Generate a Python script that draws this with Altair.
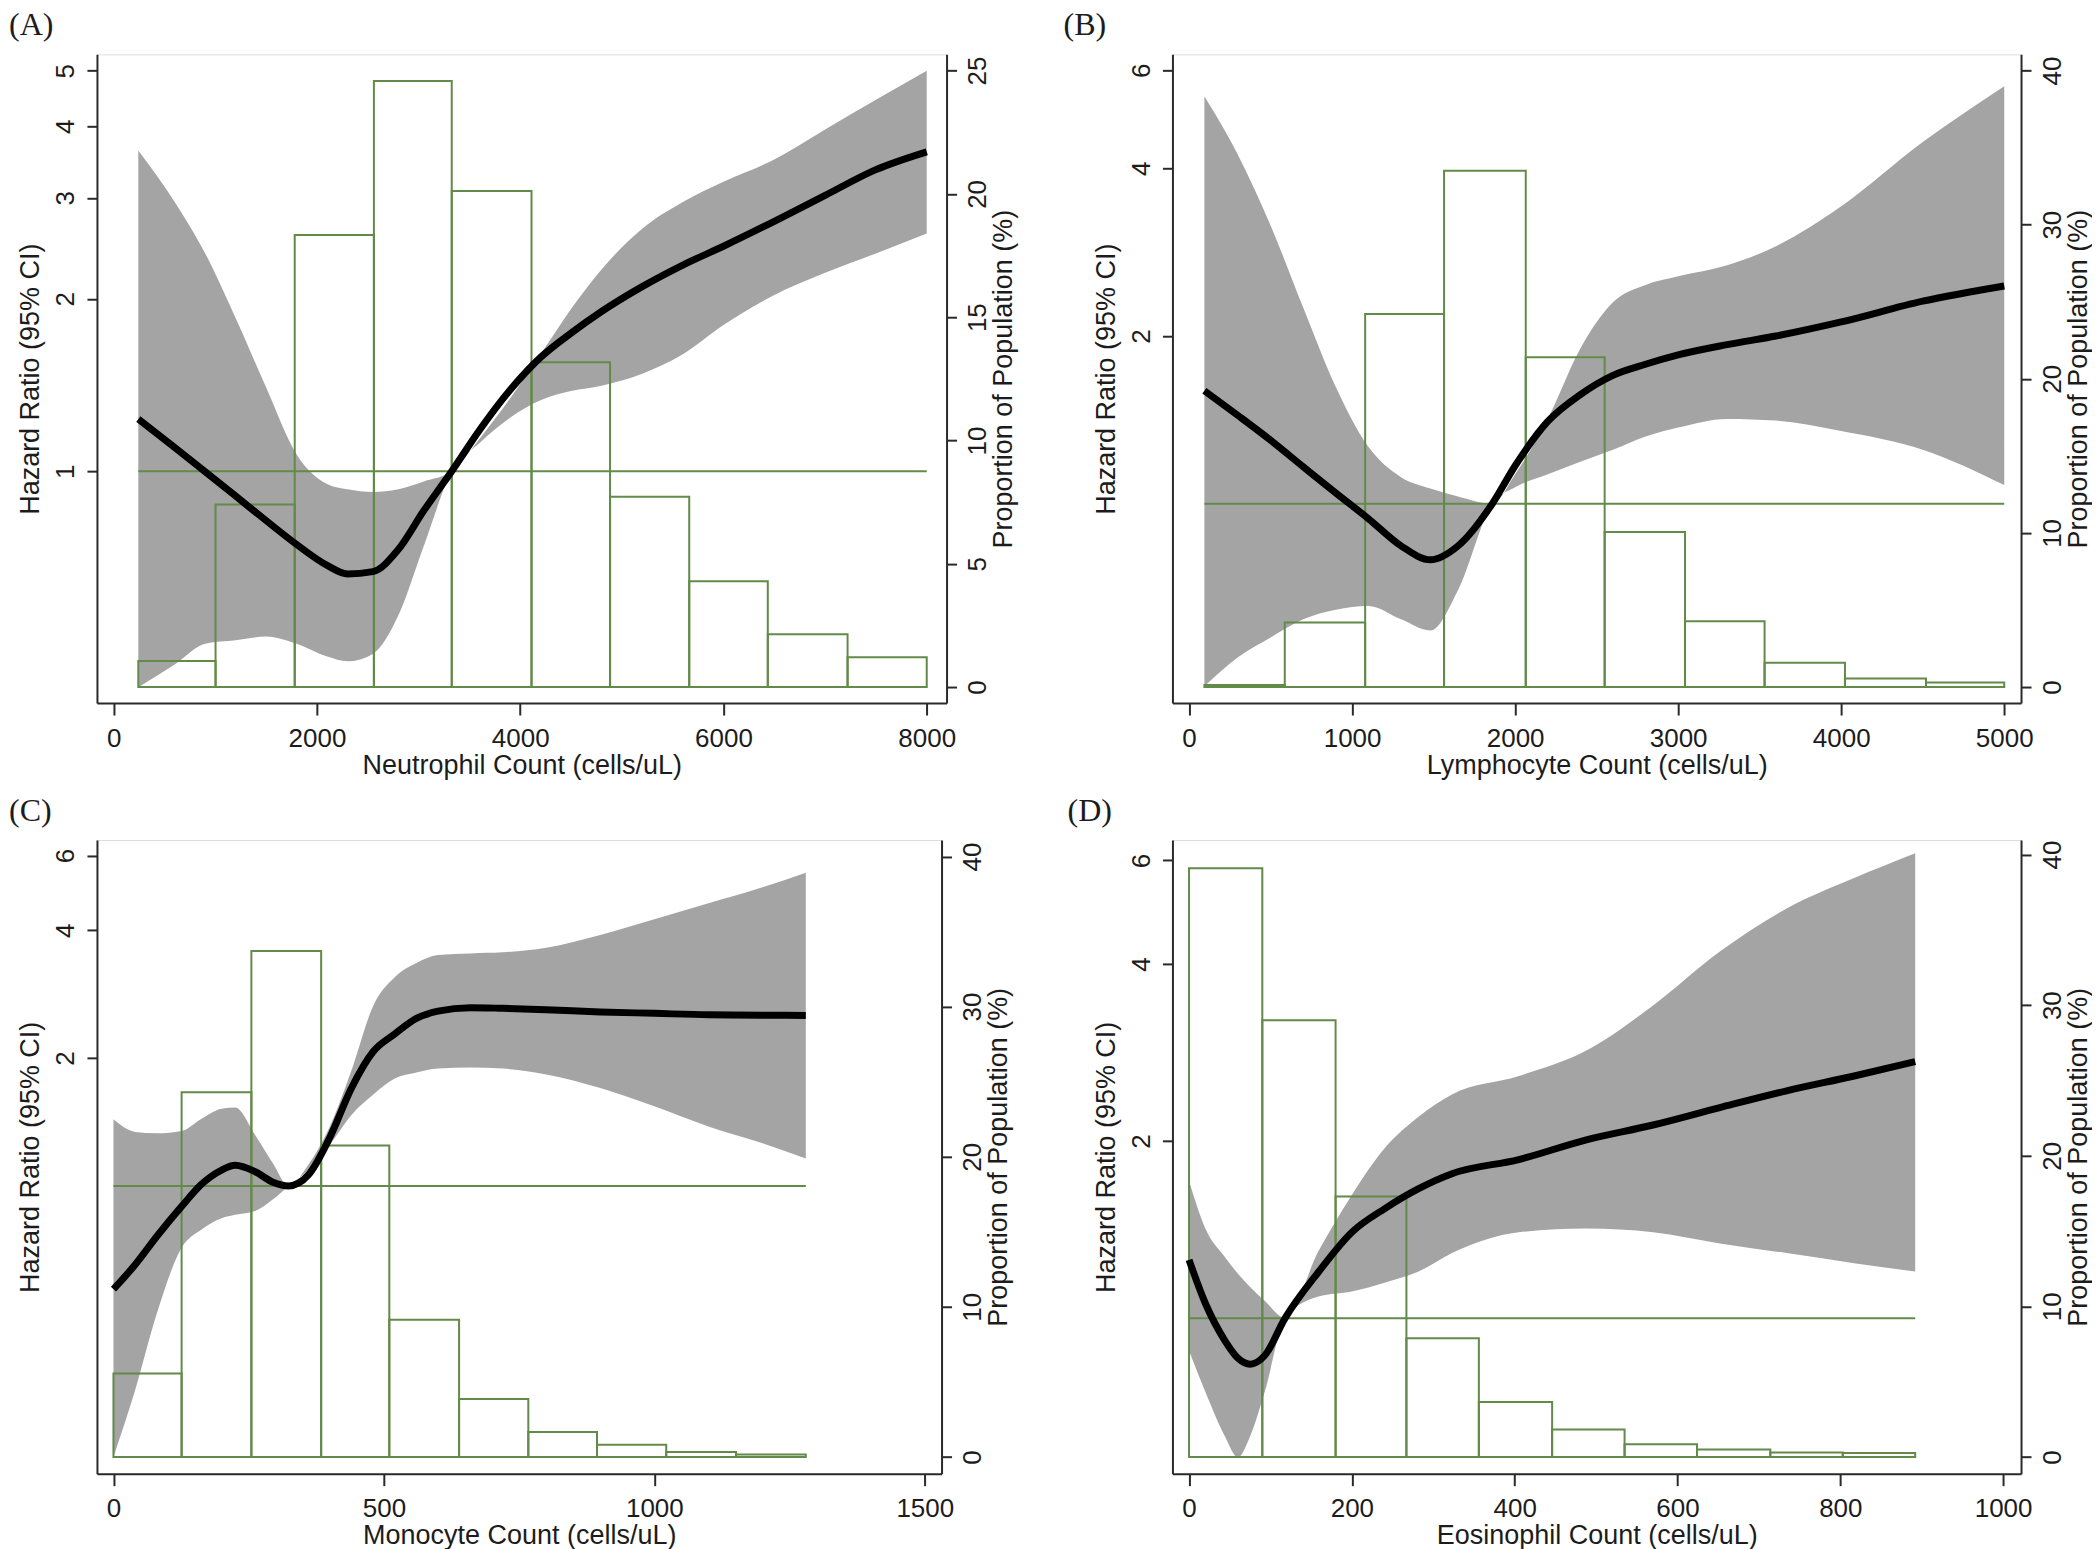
import altair as alt
import pandas as pd

# ---------------- Panel A: Neutrophil ----------------
A_x = [242, 600, 900, 1200, 1500, 1800, 2100, 2300, 2550, 2800, 3050, 3326, 3600, 3900,
       4200, 4500, 4800, 5200, 5600, 6000, 6500, 7000, 7500, 8000]
A_hr = [1.233, 1.10, 0.998, 0.905, 0.82, 0.745, 0.685, 0.662, 0.668, 0.73, 0.853, 1.0, 1.18, 1.386,
        1.58, 1.742, 1.90, 2.10, 2.29, 2.47, 2.73, 3.03, 3.36, 3.61]
A_hi = [3.63, 2.95, 2.40, 1.85, 1.40, 1.07, 0.95, 0.93, 0.92, 0.93, 0.96, 1.0, 1.14, 1.34,
        1.60, 1.92, 2.25, 2.65, 2.95, 3.20, 3.50, 3.95, 4.45, 5.0]
A_lo = [0.42, 0.46, 0.50, 0.507, 0.515, 0.50, 0.475, 0.466, 0.48, 0.56, 0.74, 1.0, 1.12, 1.24,
        1.33, 1.38, 1.41, 1.48, 1.60, 1.80, 2.03, 2.22, 2.40, 2.6]
A_edges = [242, 1002, 1781, 2560, 3326, 4111, 4884, 5663, 6436, 7221, 8000]
A_pct = [1.05, 7.4, 18.33, 24.58, 20.12, 13.17, 7.72, 4.29, 2.14, 1.21]

# ---------------- Panel B: Lymphocyte ----------------
B_x = [94, 300, 500, 700, 900, 1100, 1300, 1480, 1650, 1860, 2000, 2200, 2400, 2600, 2800,
       3000, 3300, 3600, 4000, 4500, 5000]
B_hr = [1.595, 1.44, 1.30, 1.165, 1.045, 0.94, 0.84, 0.793, 0.84, 1.0, 1.17, 1.405, 1.57, 1.70,
        1.78, 1.85, 1.93, 2.0, 2.12, 2.31, 2.46]
B_hi = [5.39, 4.23, 3.16, 2.25, 1.62, 1.265, 1.116, 1.065, 1.03, 1.0, 1.13, 1.42, 1.9, 2.3,
        2.47, 2.56, 2.68, 2.9, 3.42, 4.46, 5.62]
B_lo = [0.47, 0.53, 0.575, 0.62, 0.645, 0.655, 0.62, 0.592, 0.70, 1.0, 1.07, 1.13, 1.19, 1.25,
        1.32, 1.37, 1.42, 1.41, 1.35, 1.25, 1.08]
B_edges = [94, 587, 1080, 1564, 2065, 2549, 3042, 3530, 4023, 4520, 5000]
B_pct = [0.13, 4.19, 24.2, 33.5, 21.4, 10.06, 4.26, 1.58, 0.55, 0.29]

# ---------------- Panel C: Monocyte ----------------
C_x = [0, 40, 80, 126, 163, 200, 225, 262, 295, 324, 360, 400, 440, 480, 520, 560, 600, 660,
       720, 800, 900, 1000, 1100, 1200, 1280]
C_hr = [0.571, 0.652, 0.76, 0.895, 1.01, 1.09, 1.118, 1.08, 1.02, 1.0, 1.06, 1.30, 1.70, 2.07,
        2.28, 2.48, 2.58, 2.63, 2.62, 2.60, 2.57, 2.55, 2.53, 2.525, 2.52]
C_hi = [1.435, 1.34, 1.33, 1.347, 1.44, 1.52, 1.53, 1.318, 1.13, 1.0, 1.12, 1.38, 1.87, 2.65,
        3.1, 3.35, 3.5, 3.53, 3.55, 3.64, 3.9, 4.25, 4.63, 5.05, 5.47]
C_lo = [0.23, 0.33, 0.5, 0.715, 0.79, 0.839, 0.855, 0.873, 0.93, 1.0, 1.09, 1.25, 1.47, 1.64,
        1.79, 1.85, 1.89, 1.9, 1.89, 1.83, 1.70, 1.54, 1.38, 1.26, 1.16]
C_edges = [0, 126, 255, 384, 510, 639, 767, 894, 1022, 1151, 1280]
C_pct = [5.56, 24.3, 33.7, 20.75, 9.15, 3.86, 1.67, 0.82, 0.33, 0.16]

# ---------------- Panel D: Eosinophil ----------------
D_x = [0, 20, 44, 60, 75, 93, 118, 159, 200, 241, 282, 323, 405, 488, 570, 652, 734, 817, 892]
D_hr = [1.256, 1.06, 0.916, 0.855, 0.835, 0.864, 1.0, 1.198, 1.40, 1.537, 1.66, 1.76, 1.86,
        2.01, 2.13, 2.28, 2.435, 2.58, 2.73]
D_hi = [1.71, 1.42, 1.27, 1.19, 1.13, 1.07, 1.0, 1.30, 1.62, 1.95, 2.2, 2.40, 2.58, 2.85, 3.4,
        4.2, 4.97, 5.6, 6.17]
D_lo = [0.88, 0.75, 0.63, 0.58, 0.63, 0.75, 1.0, 1.088, 1.11, 1.15, 1.2, 1.29, 1.40, 1.42,
        1.40, 1.34, 1.29, 1.24, 1.20]
D_edges = [0, 90, 180, 267, 356, 446, 535, 624, 714, 803, 892]
D_pct = [39.1, 29.0, 17.3, 7.88, 3.65, 1.82, 0.85, 0.49, 0.29, 0.26]

# ---------------- labels / ticks ----------------
PANEL_LABELS = ["(A)", "(B)", "(C)", "(D)"]
X_TITLES = ["Neutrophil Count (cells/uL)", "Lymphocyte Count (cells/uL)",
            "Monocyte Count (cells/uL)", "Eosinophil Count (cells/uL)"]
Y_LEFT_TITLE = "Hazard Ratio (95% CI)"
Y_RIGHT_TITLE = "Proportion of Population (%)"
X_TICKS = [[0, 2000, 4000, 6000, 8000], [0, 1000, 2000, 3000, 4000, 5000],
           [0, 500, 1000, 1500], [0, 200, 400, 600, 800, 1000]]
HR_TICKS = [[1, 2, 3, 4, 5], [2, 4, 6], [2, 4, 6], [2, 4, 6]]
PCT_TICKS = [[0, 5, 10, 15, 20, 25], [0, 10, 20, 30, 40], [0, 10, 20, 30, 40], [0, 10, 20, 30, 40]]

# ---------------- styling ----------------
FONT = "Liberation Sans, Arial, sans-serif"
SERIF = "Liberation Serif, Times New Roman, serif"
TXT = "#1c1c1c"
AX = "#2a2a2a"
GREEN = "#628a48"
BAND = "#a4a4a4"

common_axis = dict(domainColor=AX, domainWidth=2, tickColor=AX, tickWidth=2,
                   labelFont=FONT, labelFontSize=26, labelColor=TXT,
                   titleFont=FONT, titleFontSize=27, titleColor=TXT, titleFontWeight="normal",
                   grid=False, labelFlush=False, labelOverlap=False, zindex=1, format="d")


def make_panel(i, xs, hr, lo, hi, edges, pct, xdom, hrdom, pctdom, w, h, label_dx):
    curve_df = pd.DataFrame({"x": xs, "hr": hr, "lo": lo, "hi": hi})
    hist_df = pd.DataFrame({"x0": edges[:-1], "x1": edges[1:], "pct": pct})
    ref_df = pd.DataFrame({"x0": [edges[0]], "x1": [edges[-1]], "one": [1.0]})

    def X(field):
        return alt.X(field, scale=alt.Scale(domain=xdom, nice=False, zero=False),
                     axis=alt.Axis(orient="bottom", values=X_TICKS[i], tickSize=12,
                                   labelPadding=10, titlePadding=1, **common_axis),
                     title=X_TITLES[i])

    hrscale = alt.Scale(type="log", domain=hrdom, nice=False)
    pctscale = alt.Scale(domain=pctdom, nice=False, zero=False)

    laxis = alt.Axis(orient="left", values=HR_TICKS[i], tickSize=10, labelPadding=8,
                     labelAngle=270, labelAlign="center", labelBaseline="bottom",
                     titleAngle=270, titleBaseline="bottom", titlePadding=8, **common_axis)
    raxis = alt.Axis(orient="right", values=PCT_TICKS[i], tickSize=10, labelPadding=8,
                     labelAngle=270, labelAlign="center", labelBaseline="top",
                     titleAngle=270, titleBaseline="top", titlePadding=0, **common_axis)

    band = alt.Chart(curve_df).mark_area(color=BAND, interpolate="monotone").encode(
        x=X("x:Q"),
        y=alt.Y("lo:Q", scale=hrscale, axis=laxis, title=Y_LEFT_TITLE),
        y2="hi:Q",
    )
    hist = alt.Chart(hist_df).mark_rect(filled=False, color=GREEN, stroke=GREEN,
                                        strokeWidth=2).encode(
        x=X("x0:Q"),
        x2="x1:Q",
        y=alt.Y("pct:Q", scale=pctscale, axis=raxis, title=Y_RIGHT_TITLE),
        y2=alt.datum(0),
    )
    ref = alt.Chart(ref_df).mark_rule(color=GREEN, strokeWidth=2).encode(
        x=X("x0:Q"),
        x2="x1:Q",
        y=alt.Y("one:Q", scale=hrscale, axis=None),
    )
    curve = alt.Chart(curve_df).mark_line(color="black", strokeWidth=7,
                                          interpolate="monotone").encode(
        x=X("x:Q"),
        y=alt.Y("hr:Q", scale=hrscale, axis=None),
    )
    return alt.layer(band, hist, ref, curve).resolve_scale(y="independent").properties(
        width=w, height=h,
        title=alt.TitleParams(text=PANEL_LABELS[i], anchor="start", frame="group",
                              dx=label_dx, offset=-20, font=SERIF, fontSize=32,
                              fontWeight="normal", color=TXT, baseline="bottom"),
    )


pA = make_panel(0, A_x, A_hr, A_lo, A_hi, A_edges, A_pct,
                [-165, 8195], [0.394, 5.34], [-0.65, 25.66], 850, 649, -88)
pB = make_panel(1, B_x, B_hr, B_lo, B_hi, B_edges, B_pct,
                [-102, 5103], [0.4386, 6.41], [-1.04, 41.05], 849, 649, -109)
pC = make_panel(2, C_x, C_hr, C_lo, C_hi, C_edges, C_pct,
                [-30.5, 1531], [0.21, 6.53], [-1.11, 41.1], 845, 634, -88)
pD = make_panel(3, D_x, D_hr, D_lo, D_hi, D_edges, D_pct,
                [-20.4, 1022], [0.544, 6.50], [-1.11, 40.97], 849, 634, -105)

chart = alt.concat(pA, pB, pC, pD, columns=2, spacing={"row": 137, "column": 226},
                   bounds="flush").properties(padding=0).configure_view(
    stroke="#dbe7ee", strokeWidth=1.5
).configure(background="white")

chart.save("out.html", embed_options={"renderer": "svg", "actions": False})
